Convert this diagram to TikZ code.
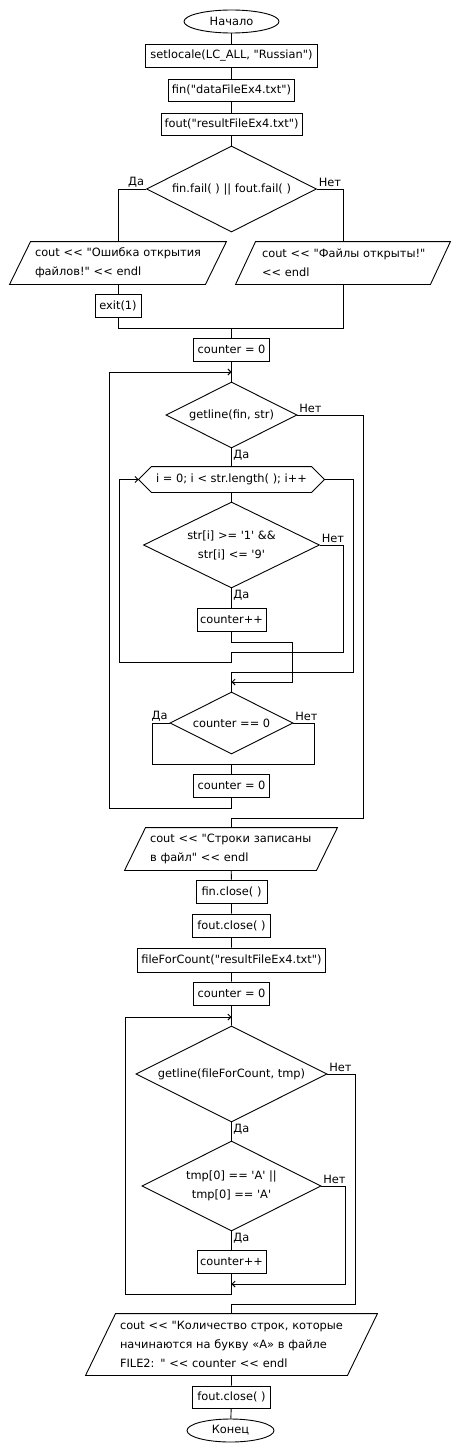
\documentclass[tikz,border=0pt]{standalone}
\usepackage{fontspec}
\setmainfont{DejaVu Sans}[Ligatures=TeXOff]
\usetikzlibrary{shapes.geometric,arrows.meta}

\begin{document}
\begin{tikzpicture}[x=1pt,y=-1pt,line width=0.9pt,
  font=\fontsize{11.4}{19}\selectfont,
  proc/.style={draw,rectangle,inner sep=0pt,minimum height=23pt},
  term/.style={draw,ellipse,inner sep=0pt,minimum height=23pt},
  cond/.style={draw,diamond,aspect=2,inner sep=0pt,align=center},
  io/.style={rectangle,inner sep=0pt,align=left},
  arr/.style={-{Straight Barb[length=3pt,width=6pt]}},
  lbl/.style={inner sep=1.5pt}]
\useasboundingbox (0,0) rectangle (460,1453);

% opening files
\node[term, minimum width=95pt] (start) at (231.5,21.5) {Начало};
\node[proc, minimum width=172pt] (setl) at (231.5,55.5) {setlocale(LC\_ALL, "Russian")};
\node[proc, minimum width=126pt, minimum height=22pt] (finbox) at (231.5,90) {fin("dataFileEx4.txt")};
\node[proc, minimum width=141pt, minimum height=22pt] (foutbox) at (231.5,124) {fout("resultFileEx4.txt")};
\node[cond, minimum width=170pt, minimum height=86pt] (dec1) at (231.5,189) {fin.fail( ) || fout.fail( )};
\node[io, minimum width=195pt, minimum height=42pt, text width=166pt] (err) at (118,263) {\mbox{cout << "Ошибка открытия}\\\mbox{файлов!" << endl}};
\node[io, minimum width=194pt, minimum height=42pt, text width=162pt] (ok) at (343,263) {\mbox{cout << "Файлы открыты!"}\\\mbox{<< endl}};
\node[proc, minimum width=46pt] (exitbox) at (118,305.5) {exit(1)};
\coordinate (j1) at (231.5,328);

% first loop over lines
\node[proc, minimum width=76pt] (cnt1) at (231.5,349.5) {counter = 0};
\coordinate (j2) at (231.5,372);
\node[cond, minimum width=131pt, minimum height=66pt] (dec2) at (231.5,415) {getline(fin, str)};
\node[rectangle, inner sep=0pt, minimum width=185pt, minimum height=25pt] (for1) at (231.5,479.5) {i = 0; i < str.length( ); i++};
\node[cond, minimum width=176pt, minimum height=86pt] (dec3) at (231.5,545) {str[i] >= '1' \&\&\\str[i] <= '9'};
\node[proc, minimum width=69pt] (inc1) at (231.5,619.5) {counter++};
\node[cond, minimum width=123pt, minimum height=62pt] (dec4) at (231.5,723) {counter == 0};
\node[proc, minimum width=76pt] (cnt2) at (231.5,785.5) {counter = 0};
\coordinate (back1) at (109,808);
\coordinate (r1) at (363,818);
\coordinate (c1) at (292,642);
\coordinate (j3) at (231.5,682);
\coordinate (c2) at (343,652);
\coordinate (c3) at (231.5,662);
\coordinate (c4) at (119,662);
\coordinate (c5) at (353,672);
\coordinate (c6) at (152,764);
\coordinate (c7) at (314,764);

% closing and counting
\node[io, minimum width=191pt, minimum height=42pt, text width=162pt] (prn) at (231,849) {\mbox{cout << "Строки записаны}\\\mbox{в файл" << endl}};
\node[proc, minimum width=71pt] (close1) at (231.5,891.5) {fin.close( )};
\node[proc, minimum width=78pt] (close2) at (231.5,925.5) {fout.close( )};
\node[proc, minimum width=188pt, minimum height=24pt] (ffc) at (231.5,960) {fileForCount("resultFileEx4.txt")};
\node[proc, minimum width=76pt] (cnt3) at (231.5,993.5) {counter = 0};
\coordinate (j4) at (231.5,1017);
\node[cond, minimum width=191pt, minimum height=96pt] (dec5) at (231.5,1074) {getline(fileForCount, tmp)};
\node[cond, minimum width=179pt, minimum height=90pt] (dec6) at (231.5,1186) {tmp[0] == 'A' ||\\tmp[0] == 'А'};
\node[proc, minimum width=69pt] (inc2) at (231.5,1261.5) {counter++};
\coordinate (c9) at (345,1284);
\coordinate (j5) at (231.5,1284);
\coordinate (c10) at (125,1294);
\coordinate (c11) at (355,1304);
\node[io, minimum width=261pt, minimum height=61pt, text width=223pt] (prn2) at (231.5,1344.5) {\mbox{cout << "Количество строк, которые}\\\mbox{начинаются на букву «А» в файле}\\\mbox{FILE2: " << counter << endl}};
\node[proc, minimum width=78pt, minimum height=22pt] (close3) at (231.5,1397) {fout.close( )};
\node[term, minimum width=87pt] (finish) at (230.5,1430.5) {Конец};

% outlines of the loop header and the io blocks
\draw ([xshift=13pt]for1.north west) -- ([xshift=-13pt]for1.north east) -- (for1.east) -- ([xshift=-13pt]for1.south east) -- ([xshift=13pt]for1.south west) -- (for1.west) -- cycle;
\draw ([xshift=10.5pt]err.north west) -- ([xshift=10.5pt]err.north east) -- ([xshift=-10.5pt]err.south east) -- ([xshift=-10.5pt]err.south west) -- cycle;
\draw ([xshift=10pt]ok.north west) -- ([xshift=10pt]ok.north east) -- ([xshift=-10pt]ok.south east) -- ([xshift=-10pt]ok.south west) -- cycle;
\draw ([xshift=10.5pt]prn.north west) -- ([xshift=10.5pt]prn.north east) -- ([xshift=-10.5pt]prn.south east) -- ([xshift=-10.5pt]prn.south west) -- cycle;
\draw ([xshift=15pt]prn2.north west) -- ([xshift=15pt]prn2.north east) -- ([xshift=-15pt]prn2.south east) -- ([xshift=-15pt]prn2.south west) -- cycle;

% connectors, top part
\draw (start) -- (setl) -- (finbox) -- (foutbox) -- (dec1);
\draw (dec1.west) node[lbl, above left] {Да} -| (err.north);
\draw (dec1.east) node[lbl, above right] {Нет} -| (ok.north);
\draw (err) -- (exitbox);
\draw (exitbox.south) |- (j1);
\draw (ok.south) |- (j1);
\draw (j1) -- (cnt1);

% connectors, first loop
\draw (cnt1) -- (dec2);
\draw (dec2.south) node[lbl, below right] {Да} -- (for1);
\draw (dec2.east) node[lbl, above right] {Нет} -| (r1) -| (prn.north);
\draw (for1) -- (dec3);
\draw (dec3.south) node[lbl, below right] {Да} -- (inc1);
\draw[arr] (inc1.south) |- (c1) |- (j3);
\draw[arr] (dec3.east) node[lbl, above right] {Нет} -| (c2) -| (c3) -- (c4) |- (for1.west);
\draw (for1.east) -| (c5) -| (dec4.north);
\draw (dec4.west) node[lbl, above left] {Да} -| (c6) -- (c7) |- (dec4.east) node[lbl, above right] {Нет};
\draw (c6 -| cnt2.north) -- (cnt2.north);
\draw[arr] (cnt2.south) |- (back1) |- (j2);

% connectors, second loop
\draw (prn) -- (close1) -- (close2) -- (ffc) -- (cnt3) -- (dec5);
\draw (dec5.south) node[lbl, below right] {Да} -- (dec6);
\draw (dec6.south) node[lbl, below right] {Да} -- (inc2);
\draw[arr] (dec6.east) node[lbl, above right] {Нет} -| (c9) -- (j5);
\draw[arr] (inc2.south) |- (c10) |- (j4);
\draw (dec5.east) node[lbl, above right] {Нет} -| (c11) -| (prn2.north);
\draw (prn2) -- (close3) -- (finish);

\end{tikzpicture}
\end{document}
